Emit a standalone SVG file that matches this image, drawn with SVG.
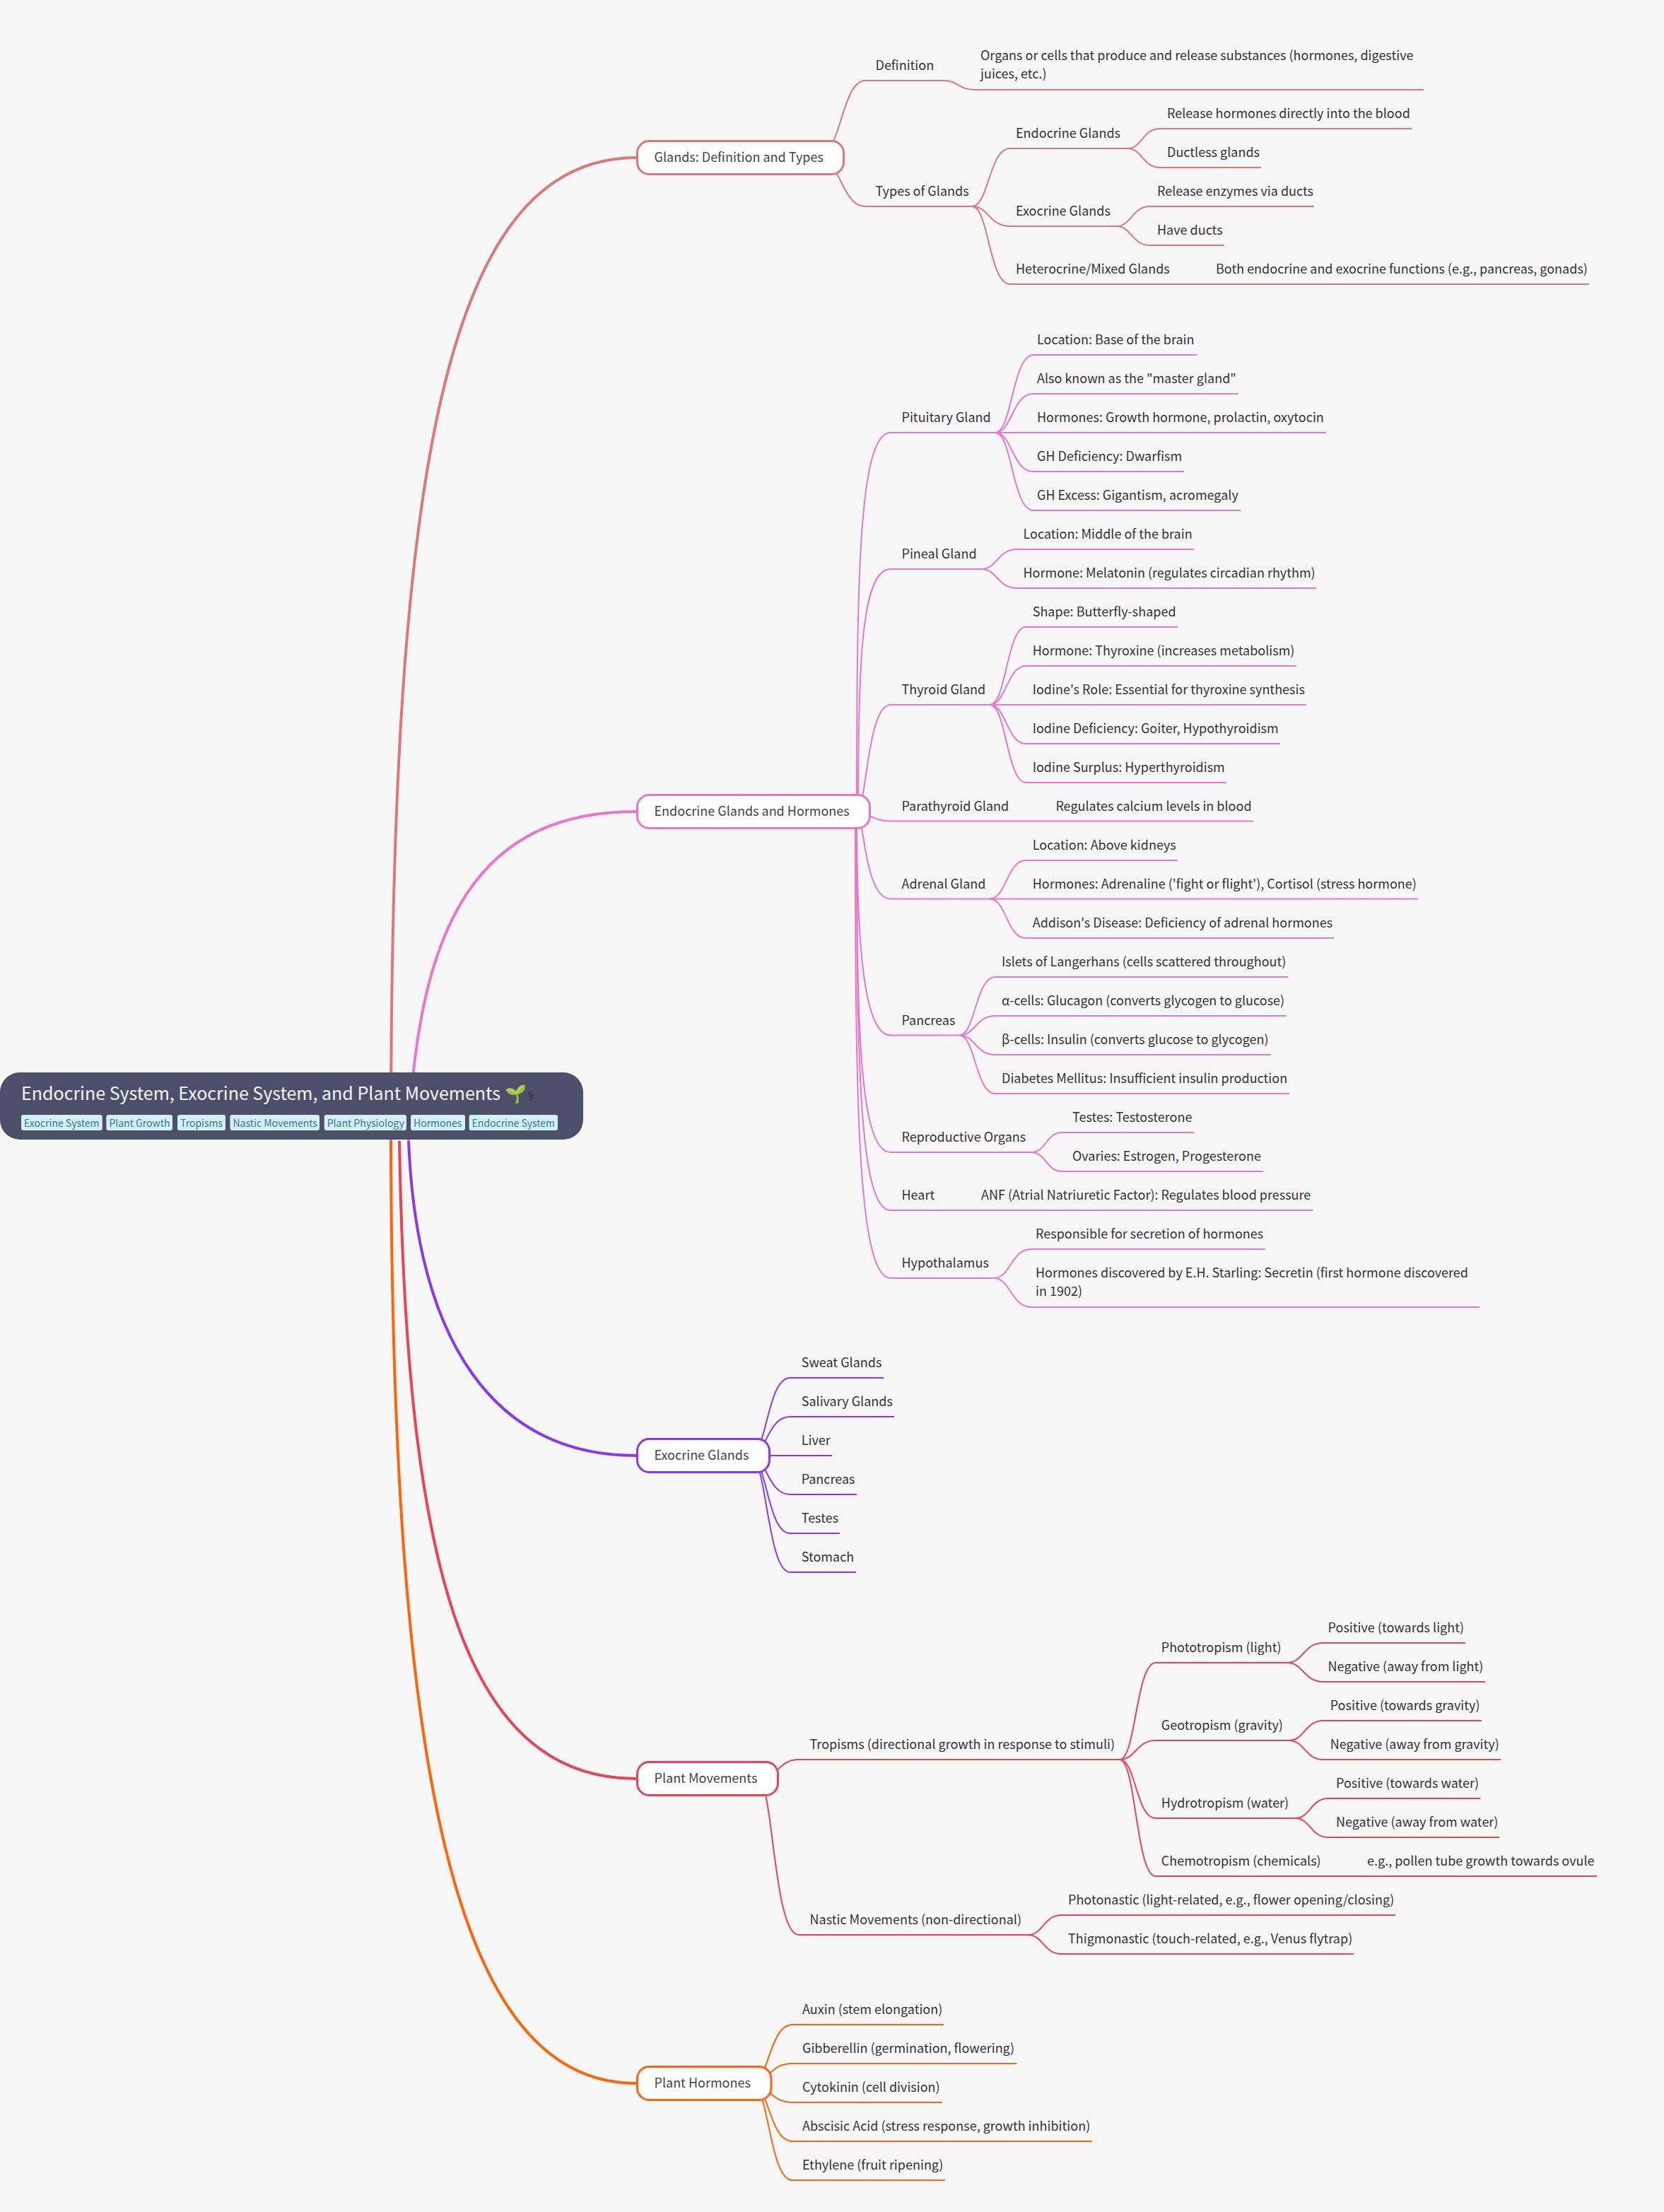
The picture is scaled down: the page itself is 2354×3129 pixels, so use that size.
<svg xmlns="http://www.w3.org/2000/svg" width="2354" height="3129" viewBox="0 0 2354 3129">
<style>
text{font-family:"Noto Sans CJK SC","Noto Sans",sans-serif}
.t{font-size:18px;fill:#333}
.n{font-size:18px;fill:#444}
.tag{font-size:14px;fill:#2c7a93}
.tagb{fill:#d5f1f8}
.title{font-size:25px;fill:#f4f5f8}
.b{fill:#fff;stroke-width:3}
path{fill:none;stroke-width:2}
.r{stroke-width:4}
.a{stroke:#dd7878}.c{stroke:#ea76cb}.d{stroke:#8839ef}.e{stroke:#e64553}.f{stroke:#fe640b}
</style>
<rect width="2354" height="3129" fill="#f7f7f7"/>
<g id="connectors">
<path class="a r" d="M553 1614C553 700 620 223 900 223"/>
<path class="c r" d="M578 1614C590 1300 680 1148 900 1148"/>
<path class="d r" d="M578 1614C590 1900 700 2059 900 2059"/>
<path class="e r" d="M565 1614C575 2200 650 2516 900 2516"/>
<path class="f r" d="M553 1614C555 2500 640 2947 900 2947"/>
<g class="a">
<path d="M1156 223C1190 223 1190 114 1224 114H1335"/>
<path d="M1335 114C1356 114 1356 127 1378 127H2014"/>
<path d="M1156 223C1190 223 1190 292 1224 292H1375"/>
<path d="M1375 292C1399 292 1399 210 1429 210H1595"/>
<path d="M1375 292C1399 292 1399 320 1429 320H1579"/>
<path d="M1375 292C1399 292 1399 402 1429 402H2248"/>
<path d="M1595 210C1616 210 1616 182 1641 182H1997"/>
<path d="M1595 210C1616 210 1616 237 1641 237H1784"/>
<path d="M1579 320C1601 320 1601 292 1627 292H1859"/>
<path d="M1579 320C1601 320 1601 347 1627 347H1732"/>
</g>
<g class="c">
<path d="M1212 1148C1212 826 1214 612 1260 612H1408"/>
<path d="M1214 1148C1214 942 1218 805 1260 805H1388"/>
<path d="M1212 1148C1226 1148 1226 997 1260 997H1400"/>
<path d="M1200 1148C1232 1148 1232 1161.500 1260 1161.500H1773"/>
<path d="M1212 1148C1222 1148 1222 1271.500 1260 1271.500H1400"/>
<path d="M1212 1148C1212 1338 1222 1464.500 1260 1464.500H1357"/>
<path d="M1212 1148C1212 1437 1214 1630 1260 1630H1459"/>
<path d="M1212 1148C1212 1486 1214 1712 1260 1712H1857"/>
<path d="M1210 1148C1210 1544 1212 1808 1260 1808H1406"/>
<path d="M1408 612C1432 612 1432 502 1462 502H1693"/>
<path d="M1408 612C1432 612 1432 557 1462 557H1752"/>
<path d="M1408 612H1876"/>
<path d="M1408 612C1432 612 1432 667 1462 667H1675"/>
<path d="M1408 612C1432 612 1432 722 1462 722H1755"/>
<path d="M1388 805C1411 805 1411 777 1439 777H1689"/>
<path d="M1388 805C1411 805 1411 832 1439 832H1862"/>
<path d="M1400 997C1424 997 1424 887 1451.500 887H1666"/>
<path d="M1400 997C1424 997 1424 942 1451.500 942H1834"/>
<path d="M1400 997H1848"/>
<path d="M1400 997C1424 997 1424 1052 1451.500 1052H1811"/>
<path d="M1400 997C1424 997 1424 1107 1451.500 1107H1735"/>
<path d="M1400 1271.500C1424 1271.500 1424 1217 1451.500 1217H1666"/>
<path d="M1400 1271.500H2006"/>
<path d="M1400 1271.500C1424 1271.500 1424 1327 1451.500 1327H1887"/>
<path d="M1357 1464.500C1380 1464.500 1380 1382 1408 1382H1822"/>
<path d="M1357 1464.500C1380 1464.500 1380 1437 1408 1437H1820"/>
<path d="M1357 1464.500C1380 1464.500 1380 1492 1408 1492H1798"/>
<path d="M1357 1464.500C1380 1464.500 1380 1547 1408 1547H1824"/>
<path d="M1459 1630C1480 1630 1480 1602 1502.500 1602H1689"/>
<path d="M1459 1630C1480 1630 1480 1657 1502.500 1657H1787"/>
<path d="M1406 1808C1430 1808 1430 1767 1459 1767H1790"/>
<path d="M1406 1808C1430 1808 1430 1849 1459 1849H2093"/>
</g>
<g class="d">
<path d="M1061 2059C1085 2059 1085 1949 1118 1949H1250"/>
<path d="M1061 2059C1085 2059 1085 2004 1118 2004H1265"/>
<path d="M1061 2059H1177"/>
<path d="M1061 2059C1085 2059 1085 2114 1118 2114H1212"/>
<path d="M1061 2059C1085 2059 1085 2169 1118 2169H1188"/>
<path d="M1061 2059C1085 2059 1085 2224 1118 2224H1211"/>
</g>
<g class="e">
<path d="M1072 2516C1101 2516 1101 2489 1130 2489H1584"/>
<path d="M1072 2516C1094 2516 1094 2737 1130 2737H1454"/>
<path d="M1584 2489C1607 2489 1607 2352 1635 2352H1821"/>
<path d="M1584 2489C1607 2489 1607 2462 1635 2462H1823"/>
<path d="M1584 2489C1607 2489 1607 2572 1635 2572H1832"/>
<path d="M1584 2489C1607 2489 1607 2654 1635 2654H2259"/>
<path d="M1454 2737C1476 2737 1476 2709 1502 2709H1974"/>
<path d="M1454 2737C1476 2737 1476 2764 1502 2764H1915"/>
<path d="M1821 2352C1844 2352 1844 2324 1872 2324H2073"/>
<path d="M1821 2352C1844 2352 1844 2379 1872 2379H2101"/>
<path d="M1823 2462C1846 2462 1846 2434 1872 2434H2096"/>
<path d="M1823 2462C1846 2462 1846 2489 1872 2489H2123"/>
<path d="M1832 2572C1854 2572 1854 2544 1879 2544H2094"/>
<path d="M1832 2572C1854 2572 1854 2599 1879 2599H2121"/>
</g>
<g class="f">
<path d="M1063 2947C1088 2947 1088 2864 1121 2864H1335"/>
<path d="M1063 2947C1088 2947 1088 2919 1121 2919H1438"/>
<path d="M1063 2947C1088 2947 1088 2974 1121 2974H1333"/>
<path d="M1063 2947C1088 2947 1088 3029 1121 3029H1545"/>
<path d="M1063 2947C1088 2947 1088 3084 1121 3084H1337"/>
</g>
</g>
<g id="root">
<rect x="0" y="1517" width="825" height="95" rx="28" fill="#4c4f69"/>
<text class="title" x="30" y="1556">Endocrine System, Exocrine System, and Plant Movements 🌱</text>
<text x="746" y="1557" style="font-family:'DejaVu Sans',sans-serif;font-size:19px;fill:#3a3a3a">⚕</text>
<rect class="tagb" x="30" y="1577" width="114.700" height="22" rx="3"/><text class="tag" x="34" y="1594">Exocrine System</text>
<rect class="tagb" x="150.400" y="1577" width="93.600" height="22" rx="3"/><text class="tag" x="154.400" y="1594">Plant Growth</text>
<rect class="tagb" x="251" y="1577" width="68" height="22" rx="3"/><text class="tag" x="255" y="1594">Tropisms</text>
<rect class="tagb" x="325.500" y="1577" width="126.500" height="22" rx="3"/><text class="tag" x="329.500" y="1594">Nastic Movements</text>
<rect class="tagb" x="458.700" y="1577" width="116.300" height="22" rx="3"/><text class="tag" x="462.700" y="1594">Plant Physiology</text>
<rect class="tagb" x="581" y="1577" width="77" height="22" rx="3"/><text class="tag" x="585" y="1594">Hormones</text>
<rect class="tagb" x="663.600" y="1577" width="125.400" height="22" rx="3"/><text class="tag" x="667.600" y="1594">Endocrine System</text>
</g>
<g id="glands">
<rect class="b a" x="901.500" y="199.500" width="292" height="47" rx="17"/>
<text class="n" x="925.500" y="228.500">Glands: Definition and Types</text>
<text class="t" x="1238.500" y="99">Definition</text>
<text class="t" x="1387" y="85">Organs or cells that produce and release substances (hormones, digestive</text>
<text class="t" x="1387" y="111">juices, etc.)</text>
<text class="t" x="1238.500" y="277">Types of Glands</text>
<text class="t" x="1437" y="195">Endocrine Glands</text>
<text class="t" x="1651" y="167">Release hormones directly into the blood</text>
<text class="t" x="1651" y="222">Ductless glands</text>
<text class="t" x="1437" y="305">Exocrine Glands</text>
<text class="t" x="1637" y="277">Release enzymes via ducts</text>
<text class="t" x="1637" y="332">Have ducts</text>
<text class="t" x="1437" y="387">Heterocrine/Mixed Glands</text>
<text class="t" x="1720" y="387">Both endocrine and exocrine functions (e.g., pancreas, gonads)</text>
</g>
<g id="endocrine">
<rect class="b c" x="901.500" y="1124.500" width="329" height="47" rx="17"/>
<text class="n" x="925.500" y="1153.500">Endocrine Glands and Hormones</text>
<text class="t" x="1275.500" y="597">Pituitary Gland</text>
<text class="t" x="1467" y="487">Location: Base of the brain</text>
<text class="t" x="1467" y="542">Also known as the "master gland"</text>
<text class="t" x="1467" y="597">Hormones: Growth hormone, prolactin, oxytocin</text>
<text class="t" x="1467" y="652">GH Deficiency: Dwarfism</text>
<text class="t" x="1467" y="707">GH Excess: Gigantism, acromegaly</text>
<text class="t" x="1275.500" y="790">Pineal Gland</text>
<text class="t" x="1447.500" y="762">Location: Middle of the brain</text>
<text class="t" x="1447.500" y="817">Hormone: Melatonin (regulates circadian rhythm)</text>
<text class="t" x="1275.500" y="982">Thyroid Gland</text>
<text class="t" x="1460.700" y="872">Shape: Butterfly-shaped</text>
<text class="t" x="1460.700" y="927">Hormone: Thyroxine (increases metabolism)</text>
<text class="t" x="1460.700" y="982">Iodine's Role: Essential for thyroxine synthesis</text>
<text class="t" x="1460.700" y="1037">Iodine Deficiency: Goiter, Hypothyroidism</text>
<text class="t" x="1460.700" y="1092">Iodine Surplus: Hyperthyroidism</text>
<text class="t" x="1275.500" y="1147">Parathyroid Gland</text>
<text class="t" x="1493.400" y="1147">Regulates calcium levels in blood</text>
<text class="t" x="1275.500" y="1257">Adrenal Gland</text>
<text class="t" x="1460.700" y="1202">Location: Above kidneys</text>
<text class="t" x="1460.700" y="1257">Hormones: Adrenaline ('fight or flight'), Cortisol (stress hormone)</text>
<text class="t" x="1460.700" y="1312">Addison's Disease: Deficiency of adrenal hormones</text>
<text class="t" x="1275.500" y="1450">Pancreas</text>
<text class="t" x="1417" y="1367">Islets of Langerhans (cells scattered throughout)</text>
<text class="t" x="1417" y="1422">α-cells: Glucagon (converts glycogen to glucose)</text>
<text class="t" x="1417" y="1477">β-cells: Insulin (converts glucose to glycogen)</text>
<text class="t" x="1417" y="1532">Diabetes Mellitus: Insufficient insulin production</text>
<text class="t" x="1275.500" y="1615">Reproductive Organs</text>
<text class="t" x="1517" y="1587">Testes: Testosterone</text>
<text class="t" x="1517" y="1642">Ovaries: Estrogen, Progesterone</text>
<text class="t" x="1275.500" y="1697">Heart</text>
<text class="t" x="1388" y="1697">ANF (Atrial Natriuretic Factor): Regulates blood pressure</text>
<text class="t" x="1275.500" y="1793">Hypothalamus</text>
<text class="t" x="1465" y="1752">Responsible for secretion of hormones</text>
<text class="t" x="1465" y="1807">Hormones discovered by E.H. Starling: Secretin (first hormone discovered</text>
<text class="t" x="1465" y="1833">in 1902)</text>
</g>
<g id="exocrine">
<rect class="b d" x="901.500" y="2035.500" width="187" height="47" rx="17"/>
<text class="n" x="925.500" y="2064.500">Exocrine Glands</text>
<text class="t" x="1133.700" y="1934">Sweat Glands</text>
<text class="t" x="1133.700" y="1989">Salivary Glands</text>
<text class="t" x="1133.700" y="2044">Liver</text>
<text class="t" x="1133.700" y="2099">Pancreas</text>
<text class="t" x="1133.700" y="2154">Testes</text>
<text class="t" x="1133.700" y="2209">Stomach</text>
</g>
<g id="movements">
<rect class="b e" x="901.500" y="2492.500" width="199" height="47" rx="17"/>
<text class="n" x="925.500" y="2521.500">Plant Movements</text>
<text class="t" x="1145.500" y="2474">Tropisms (directional growth in response to stimuli)</text>
<text class="t" x="1145.500" y="2722">Nastic Movements (non-directional)</text>
<text class="t" x="1642.800" y="2337">Phototropism (light)</text>
<text class="t" x="1878.600" y="2309">Positive (towards light)</text>
<text class="t" x="1878.600" y="2364">Negative (away from light)</text>
<text class="t" x="1642.800" y="2447">Geotropism (gravity)</text>
<text class="t" x="1881.700" y="2419">Positive (towards gravity)</text>
<text class="t" x="1881.700" y="2474">Negative (away from gravity)</text>
<text class="t" x="1642.800" y="2557">Hydrotropism (water)</text>
<text class="t" x="1890" y="2529">Positive (towards water)</text>
<text class="t" x="1890" y="2584">Negative (away from water)</text>
<text class="t" x="1642.800" y="2639">Chemotropism (chemicals)</text>
<text class="t" x="1934" y="2639">e.g., pollen tube growth towards ovule</text>
<text class="t" x="1511" y="2694">Photonastic (light-related, e.g., flower opening/closing)</text>
<text class="t" x="1511" y="2749">Thigmonastic (touch-related, e.g., Venus flytrap)</text>
</g>
<g id="hormones">
<rect class="b f" x="901.500" y="2923.500" width="189.500" height="47" rx="17"/>
<text class="n" x="925.500" y="2952.500">Plant Hormones</text>
<text class="t" x="1135" y="2849">Auxin (stem elongation)</text>
<text class="t" x="1135" y="2904">Gibberellin (germination, flowering)</text>
<text class="t" x="1135" y="2959">Cytokinin (cell division)</text>
<text class="t" x="1135" y="3014">Abscisic Acid (stress response, growth inhibition)</text>
<text class="t" x="1135" y="3069">Ethylene (fruit ripening)</text>
</g>
</svg>
